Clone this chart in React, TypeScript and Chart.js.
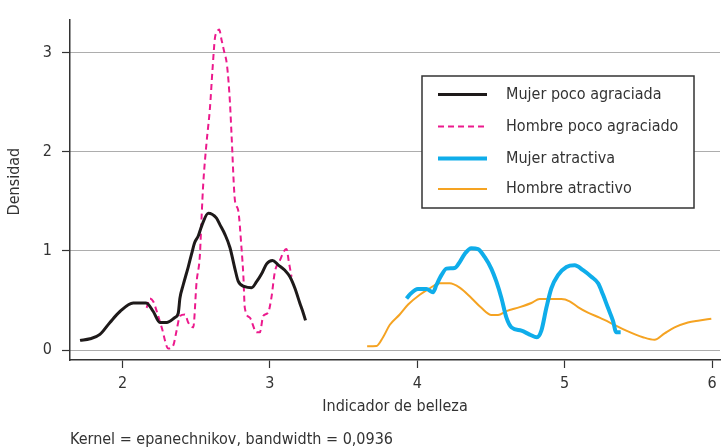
import React, { useEffect, useRef } from "react";
import { Chart, registerables } from "chart.js";

Chart.register(...registerables);

const FONT = '"Liberation Sans Narrow", "DejaVu Sans Condensed", "Arial Narrow", sans-serif';

const SERIES_LABELS = ["Mujer poco agraciada", "Hombre poco agraciado", "Mujer atractiva", "Hombre atractivo"];
const X_TICKS = [2, 3, 4, 5, 6];
const Y_TICKS = [0, 1, 2, 3];
const X_TITLE = "Indicador de belleza";
const Y_TITLE = "Densidad";
const CAPTION = "Kernel = epanechnikov, bandwidth = 0,0936";

const mujerPocoX = [1.712, 1.78, 1.847, 1.915, 1.983, 2.073, 2.16, 2.209, 2.254, 2.3, 2.356, 2.378, 2.39, 2.412, 2.446, 2.469, 2.49, 2.514, 2.537, 2.582, 2.638, 2.661, 2.695, 2.729, 2.763, 2.785, 2.83, 2.876, 2.91, 2.944, 2.978, 3.018, 3.056, 3.102, 3.136, 3.17, 3.203, 3.226, 3.242];
const mujerPocoY = [0.099, 0.115, 0.16, 0.28, 0.39, 0.476, 0.476, 0.39, 0.28, 0.28, 0.33, 0.37, 0.525, 0.657, 0.838, 0.97, 1.085, 1.15, 1.25, 1.38, 1.33, 1.265, 1.167, 1.035, 0.82, 0.696, 0.64, 0.63, 0.69, 0.77, 0.87, 0.904, 0.86, 0.805, 0.74, 0.624, 0.476, 0.378, 0.3];

const hombrePocoX = [2.164, 2.186, 2.209, 2.232, 2.266, 2.311, 2.345, 2.367, 2.39, 2.424, 2.446, 2.48, 2.503, 2.525, 2.537, 2.548, 2.571, 2.593, 2.611, 2.627, 2.639, 2.656, 2.673, 2.688, 2.71, 2.729, 2.74, 2.763, 2.785, 2.808, 2.82, 2.83, 2.864, 2.91, 2.932, 2.955, 2.988, 3.01, 3.034, 3.068, 3.097, 3.113, 3.129, 3.147];
const hombrePocoY = [0.427, 0.52, 0.49, 0.394, 0.23, 0.017, 0.05, 0.197, 0.345, 0.36, 0.28, 0.23, 0.69, 0.953, 1.35, 1.676, 2.1, 2.43, 2.83, 3.14, 3.2, 3.23, 3.12, 3.02, 2.86, 2.5, 2.17, 1.51, 1.41, 1.02, 0.756, 0.427, 0.328, 0.18, 0.18, 0.345, 0.378, 0.525, 0.79, 0.904, 1.0, 1.02, 0.887, 0.74];

const mujerAtrX = [3.927, 3.949, 4.005, 4.062, 4.107, 4.13, 4.164, 4.198, 4.254, 4.288, 4.322, 4.367, 4.412, 4.458, 4.503, 4.537, 4.571, 4.605, 4.639, 4.707, 4.763, 4.812, 4.842, 4.876, 4.91, 4.955, 5.012, 5.068, 5.125, 5.181, 5.227, 5.26, 5.294, 5.328, 5.35, 5.38];
const mujerAtrY = [0.52, 0.56, 0.617, 0.617, 0.585, 0.657, 0.756, 0.822, 0.828, 0.888, 0.97, 1.028, 1.019, 0.937, 0.82, 0.69, 0.526, 0.328, 0.23, 0.197, 0.158, 0.131, 0.197, 0.427, 0.624, 0.756, 0.838, 0.855, 0.806, 0.74, 0.674, 0.56, 0.427, 0.296, 0.18, 0.18];

const hombreAtrX = [3.66, 3.723, 3.768, 3.814, 3.881, 3.938, 4.017, 4.085, 4.153, 4.22, 4.288, 4.367, 4.435, 4.503, 4.548, 4.605, 4.695, 4.774, 4.831, 4.978, 5.034, 5.09, 5.158, 5.237, 5.328, 5.418, 5.531, 5.61, 5.678, 5.746, 5.836, 5.915, 5.995];
const hombreAtrY = [0.039, 0.042, 0.131, 0.256, 0.36, 0.46, 0.559, 0.624, 0.674, 0.674, 0.63, 0.526, 0.427, 0.355, 0.355, 0.394, 0.434, 0.476, 0.516, 0.516, 0.493, 0.434, 0.378, 0.328, 0.263, 0.197, 0.131, 0.105, 0.17, 0.23, 0.28, 0.3, 0.318];

const toPoints = (xs: number[], ys: number[]) => xs.map((x, i) => ({ x, y: ys[i] }));

const TEXT = "#333333";
const FS = 16;

const extrasPlugin = {
  id: "extras",
  afterDraw(chart: any) {
    const ctx = chart.ctx;
    const ca = chart.chartArea;
    ctx.save();
    // y axis title
    ctx.fillStyle = TEXT;
    ctx.font = `${FS}px ${FONT}`;
    ctx.textAlign = "center";
    ctx.textBaseline = "middle";
    ctx.save();
    ctx.translate(15, ca.top + 162);
    ctx.rotate(-Math.PI / 2);
    ctx.fillText(Y_TITLE, 0, 0);
    ctx.restore();
    // caption
    ctx.textAlign = "left";
    ctx.textBaseline = "alphabetic";
    ctx.fillText(CAPTION, ca.left, 444);
    // legend box
    const bx = 422, by = 76, bw = 272, bh = 132;
    ctx.fillStyle = "#ffffff";
    ctx.fillRect(bx, by, bw, bh);
    ctx.strokeStyle = "#333333";
    ctx.lineWidth = 1.5;
    ctx.strokeRect(bx, by, bw, bh);
    const rows = [94.5, 126.5, 158.5, 189];
    chart.data.datasets.forEach((ds: any, i: number) => {
      const y = rows[i];
      ctx.save();
      ctx.strokeStyle = ds.borderColor;
      ctx.lineWidth = ds.borderWidth;
      ctx.setLineDash(ds.borderDash || []);
      ctx.beginPath();
      ctx.moveTo(438, y);
      ctx.lineTo(487, y);
      ctx.stroke();
      ctx.restore();
      ctx.fillStyle = TEXT;
      ctx.font = `${FS}px ${FONT}`;
      ctx.textAlign = "left";
      ctx.textBaseline = "middle";
      ctx.fillText(ds.label, 506, y);
    });
    ctx.restore();
  },
};

export default function App() {
  const ref = useRef<HTMLCanvasElement | null>(null);
  useEffect(() => {
    document.body.style.margin = "0";
    const canvas = ref.current!;
    const chart = new Chart(canvas, {
      type: "line",
      data: {
        datasets: [
          { label: SERIES_LABELS[0], data: toPoints(mujerPocoX, mujerPocoY), borderColor: "#1e1a1a", borderWidth: 3 },
          { label: SERIES_LABELS[1], data: toPoints(hombrePocoX, hombrePocoY), borderColor: "#ec1a8d", borderWidth: 2, borderDash: [6, 4] },
          { label: SERIES_LABELS[2], data: toPoints(mujerAtrX, mujerAtrY), borderColor: "#0fadea", borderWidth: 4 },
          { label: SERIES_LABELS[3], data: toPoints(hombreAtrX, hombreAtrY), borderColor: "#f5a322", borderWidth: 2 },
        ] as any,
      },
      options: {
        animation: false,
        responsive: false,
        devicePixelRatio: 1,
        layout: { padding: { top: 12, right: 3, left: 0, bottom: 0 } },
        elements: {
          point: { radius: 0, hoverRadius: 0 },
          line: { cubicInterpolationMode: "monotone", fill: false },
        },
        plugins: { legend: { display: false }, tooltip: { enabled: false }, title: { display: false } },
        scales: {
          x: {
            type: "linear",
            min: 1.644,
            max: 6.054,
            afterBuildTicks: (s: any) => { s.ticks = X_TICKS.map((v) => ({ value: v })); },
            afterFit: (s: any) => { s.height = 88; },
            grid: { display: true, drawOnChartArea: false, drawTicks: true, tickLength: 8, tickColor: "#333333", tickWidth: 1.2 },
            border: { display: true, color: "#333333", width: 1.5 },
            ticks: { color: TEXT, font: { family: FONT, size: 16 }, padding: 6, maxRotation: 0 },
            title: { display: true, text: X_TITLE, color: TEXT, font: { family: FONT, size: FS }, padding: { top: 0, bottom: 32 } },
          },
          y: {
            type: "linear",
            min: -0.0985,
            max: 3.33,
            afterBuildTicks: (s: any) => { s.ticks = Y_TICKS.map((v) => ({ value: v })); },
            afterFit: (s: any) => { s.width = 70; },
            grid: { display: true, drawOnChartArea: true, drawTicks: true, tickLength: 8, color: "#5a5a5a", lineWidth: 1, tickColor: "#333333", tickWidth: 1.2 },
            border: { display: true, color: "#333333", width: 1.5, dash: [1, 1] },
            ticks: { color: TEXT, font: { family: FONT, size: 16 }, padding: 10 },
          },
        },
      } as any,
      plugins: [extrasPlugin],
    });
    return () => chart.destroy();
  }, []);
  return (
    <div style={{ width: 723, height: 448 }}>
      <canvas ref={ref} width={723} height={448} style={{ width: 723, height: 448, display: "block" }} />
    </div>
  );
}
